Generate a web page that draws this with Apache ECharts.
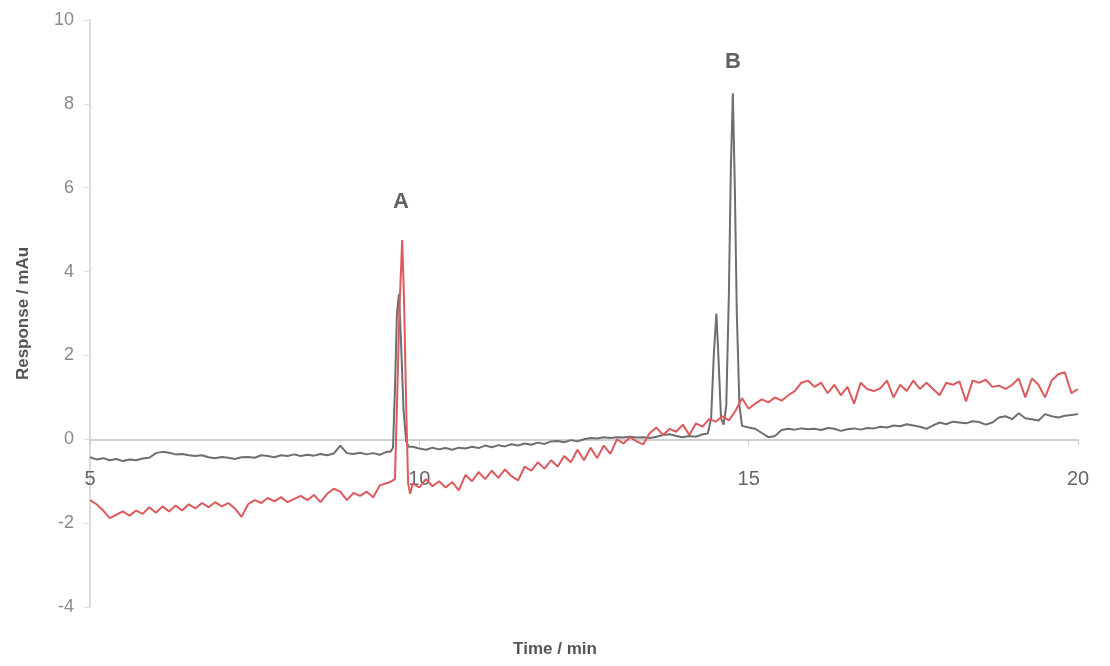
<!DOCTYPE html>
<html>
<head>
<meta charset="utf-8">
<script src="https://cdn.jsdelivr.net/npm/echarts@6/dist/echarts.min.js"></script>
<style>
html,body{margin:0;padding:0;background:#fff;}
#chart{width:1110px;height:666px;}
</style>
</head>
<body>
<div id="chart"></div>
<script>
// Baseline sampling: values every 0.1 min from 5.0 to 20.0
const gridStart = 5.0;
const gridStep = 0.1;

const grayBaseline = [
  -0.43,-0.48,-0.45,-0.50,-0.47,-0.52,-0.48,-0.50,-0.46,-0.44,
  -0.33,-0.30,-0.32,-0.36,-0.35,-0.38,-0.40,-0.38,-0.43,-0.45,
  -0.42,-0.44,-0.47,-0.43,-0.42,-0.44,-0.38,-0.40,-0.43,-0.38,
  -0.40,-0.36,-0.40,-0.37,-0.39,-0.35,-0.38,-0.34,-0.15,-0.33,
  -0.35,-0.32,-0.36,-0.33,-0.37,-0.30,-0.30,-0.30,-0.30,-0.18,
  -0.22,-0.25,-0.20,-0.24,-0.21,-0.25,-0.20,-0.22,-0.18,-0.21,
  -0.15,-0.19,-0.14,-0.17,-0.12,-0.15,-0.10,-0.13,-0.08,-0.11,
  -0.05,-0.04,-0.07,-0.02,-0.05,0.00,0.03,0.02,0.05,0.03,
  0.05,0.04,0.06,0.04,0.05,0.03,0.06,0.10,0.12,0.08,
  0.05,0.08,0.06,0.12,0.20,0.20,0.20,0.20,0.20,0.30,
  0.28,0.25,0.15,0.05,0.08,0.22,0.25,0.23,0.26,0.24,
  0.25,0.22,0.27,0.25,0.20,0.24,0.26,0.23,0.27,0.26,
  0.30,0.28,0.33,0.31,0.36,0.33,0.30,0.25,0.33,0.40,
  0.36,0.42,0.40,0.38,0.43,0.41,0.35,0.40,0.52,0.55,
  0.48,0.62,0.50,0.48,0.45,0.60,0.55,0.52,0.56,0.58,
  0.60
];

const redBaseline = [
  -1.45,-1.55,-1.70,-1.88,-1.80,-1.72,-1.82,-1.70,-1.78,-1.62,
  -1.75,-1.60,-1.72,-1.58,-1.70,-1.55,-1.65,-1.52,-1.62,-1.50,
  -1.60,-1.52,-1.65,-1.85,-1.55,-1.45,-1.52,-1.40,-1.48,-1.38,
  -1.50,-1.42,-1.35,-1.45,-1.33,-1.50,-1.30,-1.18,-1.25,-1.45,
  -1.28,-1.35,-1.25,-1.38,-1.10,-1.05,-1.00,-1.00,-1.00,-1.05,
  -1.15,-0.95,-1.12,-1.00,-1.15,-1.02,-1.22,-0.85,-1.00,-0.78,
  -0.95,-0.75,-0.92,-0.72,-0.88,-0.98,-0.65,-0.75,-0.55,-0.70,
  -0.50,-0.65,-0.40,-0.55,-0.25,-0.50,-0.20,-0.45,-0.15,-0.35,
  0.00,-0.10,0.05,-0.05,-0.12,0.15,0.28,0.10,0.25,0.18,
  0.35,0.10,0.38,0.30,0.48,0.42,0.55,0.45,0.68,0.98,
  0.73,0.85,0.95,0.88,1.00,0.92,1.05,1.15,1.35,1.40,
  1.25,1.35,1.10,1.30,1.05,1.25,0.85,1.35,1.20,1.15,
  1.22,1.40,1.00,1.30,1.15,1.40,1.20,1.35,1.20,1.05,
  1.35,1.30,1.38,0.90,1.40,1.35,1.42,1.25,1.28,1.20,
  1.30,1.45,1.00,1.45,1.30,1.00,1.40,1.55,1.60,1.10,
  1.20
];

// Peak regions sampled finer: [time, response]
const grayPeakA = [[9.56,-0.30],[9.60,-0.20],[9.63,1.20],[9.66,3.00],[9.69,3.46],[9.72,2.40],[9.76,0.70],[9.80,-0.05],[9.84,-0.18]];
const redPeakA  = [[9.58,-1.00],[9.63,-0.95],[9.66,0.80],[9.70,3.20],[9.74,4.75],[9.77,3.20],[9.80,0.80],[9.83,-1.05],[9.86,-1.30]];
const grayPeakB = [[14.38,0.14],[14.43,0.50],[14.47,2.00],[14.51,3.00],[14.54,2.00],[14.58,0.50],[14.62,0.35],[14.66,0.80],[14.70,3.50],[14.73,6.50],[14.76,8.25],[14.79,6.00],[14.82,3.00],[14.86,0.80],[14.90,0.32]];

const peakLabels = [
  {name: 'A', t: 9.72, v: 5.65},
  {name: 'B', t: 14.76, v: 9.0}
];

const xTicks = {min: 5, max: 20, interval: 5};
const yTicks = {min: -4, max: 10, interval: 2};

function merge(base, peaks) {
  const out = [];
  const ranges = peaks.map(p => [p[0][0], p[p.length - 1][0]]);
  base.forEach((v, i) => {
    const t = +(gridStart + i * gridStep).toFixed(2);
    if (!ranges.some(r => t >= r[0] && t <= r[1])) out.push([t, v]);
  });
  peaks.forEach(p => p.forEach(pt => out.push(pt)));
  out.sort((a, b) => a[0] - b[0]);
  return out;
}

const grayData = merge(grayBaseline, [grayPeakA, grayPeakB]);
const redData = merge(redBaseline, [redPeakA]);

const chart = echarts.init(document.getElementById('chart'));
chart.setOption({
  animation: false,
  backgroundColor: '#ffffff',
  grid: {left: 90, right: 32, top: 20, bottom: 59},
  xAxis: {
    type: 'value',
    min: xTicks.min, max: xTicks.max, interval: xTicks.interval,
    axisLine: {onZero: true, lineStyle: {color: '#cfcfcf', width: 2}},
    axisTick: {show: true, length: 6, lineStyle: {color: '#cfcfcf'}},
    axisLabel: {color: '#666', fontSize: 20, fontFamily: 'Liberation Sans, Arial, sans-serif', margin: -138},
    splitLine: {show: false}
  },
  yAxis: {
    type: 'value',
    min: yTicks.min, max: yTicks.max, interval: yTicks.interval,
    name: 'Response / mAu',
    nameLocation: 'middle',
    nameGap: 58,
    nameTextStyle: {color: '#555', fontSize: 17, fontWeight: 'bold', fontFamily: 'Liberation Sans, Arial, sans-serif'},
    axisLine: {show: true, lineStyle: {color: '#dcdcdc', width: 2}},
    axisTick: {show: true, length: 6, lineStyle: {color: '#dcdcdc'}},
    axisLabel: {color: '#8a8a8a', fontSize: 18, fontFamily: 'Liberation Sans, Arial, sans-serif', margin: 16},
    splitLine: {show: false}
  },
  graphic: [{
    type: 'text',
    left: 'center',
    top: 641,
    style: {text: 'Time / min', fill: '#555', font: 'bold 17px "Liberation Sans", Arial, sans-serif'}
  }],
  series: [
    {
      type: 'line', name: 'gray', data: grayData, showSymbol: false, symbol: 'none',
      lineStyle: {color: '#6e6e6e', width: 2}, z: 2
    },
    {
      type: 'line', name: 'red', data: redData, showSymbol: false, symbol: 'none',
      lineStyle: {color: '#dc5a5e', width: 2}, z: 3
    },
    {
      type: 'scatter', name: 'labels',
      data: peakLabels.map(p => ({value: [p.t, p.v], name: p.name})),
      symbolSize: 0, silent: true,
      label: {show: true, position: 'inside', formatter: '{b}', color: '#3a3a3a', fontSize: 22, fontWeight: 'bold', fontFamily: 'Liberation Sans, Arial, sans-serif'},
      z: 5
    }
  ]
});
</script>
</body>
</html>
